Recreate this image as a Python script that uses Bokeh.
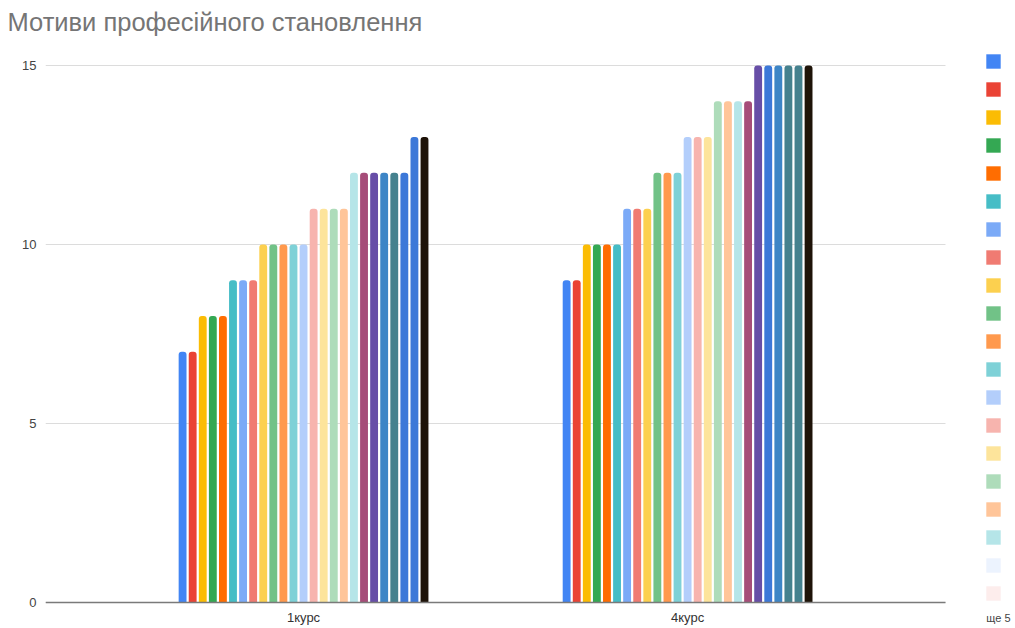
import math
from bokeh.plotting import figure
from bokeh.models import (ColumnDataSource, Range1d, FixedTicker, Legend, LegendItem, Label)
from bokeh.core.properties import value
from bokeh.embed import file_html
from bokeh.resources import INLINE

# ---------------- data ----------------
categories = ["1курс", "4курс"]
values_1kurs = [7, 7, 8, 8, 8, 9, 9, 9, 10, 10, 10, 10, 10, 11, 11, 11, 11,
                12, 12, 12, 12, 12, 12, 13, 13]
values_4kurs = [9, 9, 10, 10, 10, 10, 11, 11, 11, 12, 12, 12, 13, 13, 13,
                14, 14, 14, 14, 15, 15, 15, 15, 15, 15]
base_colors = ["#4285F4", "#EA4335", "#FBBC04", "#34A853", "#FF6D01", "#46BDC6",
               "#7BAAF7", "#F07B72", "#FCD04F", "#71C287", "#FF994D", "#7ED1D7",
               "#B3CEFB", "#F7B4AE", "#FDE49B", "#AEDCBA", "#FFC599", "#B5E5E8",
               "#A64D79", "#674EA7"]
colors_1kurs = base_colors + ["#3D85C6", "#45818E", "#3C78D8", "#3C78D8", "#1E1308"]
colors_4kurs = base_colors + ["#3C78D8", "#3D85C6", "#45818E", "#45818E", "#1E1308"]
legend_colors = base_colors[:18] + ["#ECF3FE", "#FDEDEC"]
more_text = "ще 5"
title_text = "Мотиви професійного становлення"

# ---------------- layout helpers ----------------
n_series = len(values_1kurs)
group_gap = 14.1          # gap between groups in bar pitches
group_step = n_series - 1 + group_gap
group_start = [0.0, group_step]
group_center = [s + (n_series - 1) / 2 for s in group_start]
x_lo, x_hi, x_view_hi = -13.6, 75.7, 82.63

xs, tops, cols = [], [], []
for gi, (vals, cs) in enumerate([(values_1kurs, colors_1kurs), (values_4kurs, colors_4kurs)]):
    for j, (v, c) in enumerate(zip(vals, cs)):
        xs.append(group_start[gi] + j)
        tops.append(v)
        cols.append(c)
src = ColumnDataSource(dict(x=xs, top=tops, color=cols))

p = figure(width=1015, height=628, output_backend="svg", toolbar_location=None,
           x_range=Range1d(x_lo, x_view_hi), y_range=Range1d(-0.726, 15.78),
           min_border_left=45, min_border_right=0, min_border_top=37,
           min_border_bottom=0, title=title_text)
p.outline_line_color = None
p.background_fill_color = "white"

p.vbar(x="x", top="top", bottom=0, width=0.78, source=src, fill_color="color",
       line_color=None, border_radius=(3, 3, 0, 0))

# title
p.title.text_font = "Liberation Sans"
p.title.text_font_size = "25.5px"
p.title.text_font_style = "normal"
p.title.text_color = "#757575"
p.title.align = "left"
p.title.offset = -38
p.title.standoff = 4

# grid / axes
p.xgrid.grid_line_color = None
p.ygrid.grid_line_color = "#dcdcdc"
p.ygrid.grid_line_width = 1
p.ygrid.cross_bounds = (x_lo, x_hi)

p.yaxis.ticker = FixedTicker(ticks=[0, 5, 10, 15])
p.yaxis.axis_line_color = None
p.yaxis.major_tick_line_color = None
p.yaxis.minor_tick_line_color = None
p.yaxis.major_tick_out = 0
p.yaxis.major_label_standoff = 9
p.yaxis.major_label_text_font = "Liberation Sans"
p.yaxis.major_label_text_font_size = "13px"
p.yaxis.major_label_text_color = "#444444"

p.xaxis.fixed_location = 0
p.xaxis.bounds = (x_lo, x_hi)
p.xaxis.ticker = FixedTicker(ticks=group_center)
p.xaxis.major_label_overrides = {group_center[i]: categories[i] for i in range(2)}
p.xaxis.axis_line_color = "#7a7a7a"
p.xaxis.axis_line_width = 1.5
p.xaxis.major_tick_line_color = None
p.xaxis.minor_tick_line_color = None
p.xaxis.major_tick_out = 0
p.xaxis.major_tick_in = 0
p.xaxis.major_label_standoff = 7
p.xaxis.major_label_text_font = "Liberation Sans"
p.xaxis.major_label_text_font_size = "13px"
p.xaxis.major_label_text_color = "#333333"

# legend (colour swatches only; swatch renderer has no visible bars)
nan = float("nan")
leg_src = ColumnDataSource(dict(x=[nan] * len(legend_colors),
                                top=[nan] * len(legend_colors),
                                color=legend_colors))
leg_r = p.vbar(x="x", top="top", bottom=0, width=0.78, source=leg_src,
               fill_color="color", line_color=None)
items = [LegendItem(label=value(" "), renderers=[leg_r], index=i)
         for i in range(len(legend_colors))]
legend = Legend(items=items, location=(939, 26), orientation="vertical",
                glyph_width=18, glyph_height=18, spacing=10, padding=0, margin=0,
                label_standoff=0, label_width=0, label_height=18,
                label_text_font_size="8px", label_text_alpha=0,
                border_line_color=None, background_fill_alpha=0)
p.add_layout(legend, "center")

p.add_layout(Label(x=80.94, y=-0.42, text=more_text, text_align="center",
                   text_baseline="middle", text_font="Liberation Sans",
                   text_font_size="11px", text_color="#444444"))

open("out.html", "w").write(file_html(p, INLINE))
